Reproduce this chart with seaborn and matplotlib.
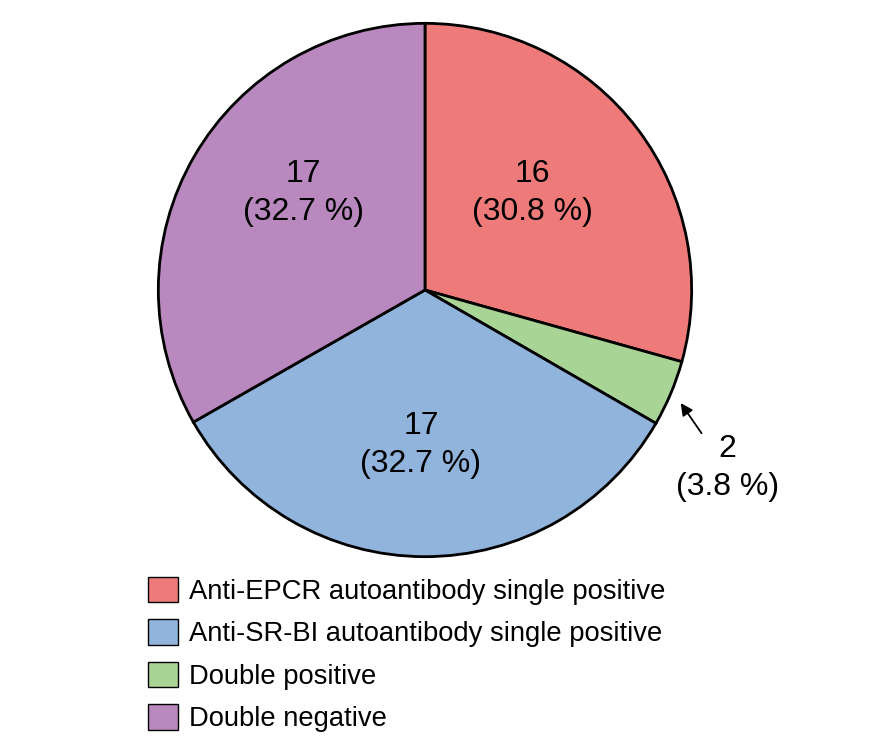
import matplotlib
matplotlib.use("Agg")
import matplotlib.pyplot as plt
from matplotlib.patches import Patch
import seaborn as sns

# Data
categories = ["Anti-EPCR autoantibody single positive",
              "Anti-SR-BI autoantibody single positive",
              "Double positive",
              "Double negative"]
# pie order, clockwise from the top
pie_order = [0, 2, 1, 3]
counts = [16, 2, 17, 17]
percents = [30.8, 3.8, 32.7, 32.7]
# slice sizes as drawn in the original figure (degrees)
wedge_deg = [105.6, 14.4, 120.3, 119.7]
colors = {"Anti-EPCR autoantibody single positive": "#EE7B7A",
          "Anti-SR-BI autoantibody single positive": "#91B4DD",
          "Double positive": "#A8D496",
          "Double negative": "#B888BE"}

sns.set_theme(style="white")
plt.rcParams['font.family'] = ['Liberation Sans', 'DejaVu Sans']
plt.rcParams['text.color'] = 'black'

fig = plt.figure(figsize=(8.75, 7.51), dpi=100)
ax = fig.add_axes([0.1794, 0.2570, 0.6126, 0.7137])

wedge_colors = [colors[categories[i]] for i in pie_order]
wedges, _ = ax.pie(wedge_deg, colors=wedge_colors, startangle=90, counterclock=False,
                   radius=1, wedgeprops=dict(edgecolor="black", linewidth=2.0))
ax.set_xlim(-1.005, 1.005)
ax.set_ylim(-1.005, 1.005)
ax.set_aspect("equal")

# Labels inside the big wedges
label_pos = {0: (0.403, 0.365), 2: (-0.015, -0.58), 3: (-0.455, 0.365)}
for k, (x, y) in label_pos.items():
    ax.text(x, y, f"{counts[k]}\n({percents[k]} %)", ha="center", va="center",
            fontsize=23, linespacing=1.36, color="black")

# Small wedge: text plus arrow
ax.text(1.134, -0.667, f"{counts[1]}\n({percents[1]} %)", ha="center", va="center",
        fontsize=23, linespacing=1.36, color="black", clip_on=False)
ax.annotate("", xy=(0.959, -0.424), xytext=(1.037, -0.537), annotation_clip=False,
            arrowprops=dict(arrowstyle="-|>", color="black", lw=1.3,
                            shrinkA=0, shrinkB=0, mutation_scale=18))

# Legend
handles = [Patch(facecolor=colors[c], edgecolor="black", linewidth=1.0) for c in categories]
fig.legend(handles, categories, loc="upper left", bbox_to_anchor=(0.169, 0.232),
           frameon=False, fontsize=19.7, handlelength=1.1, handleheight=1.05,
           handletextpad=0.42, labelspacing=0.53, borderpad=0, borderaxespad=0,
           labelcolor="black")

plt.savefig("out.png", dpi=100)
